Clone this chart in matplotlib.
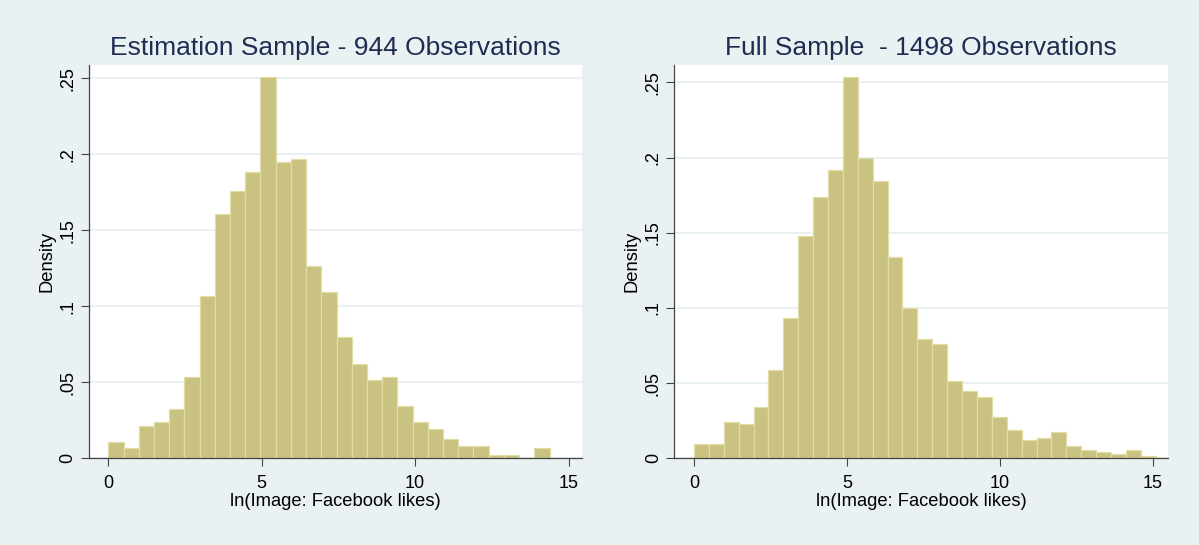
import numpy as np
import matplotlib.pyplot as plt

plt.rcParams['font.family'] = ['Liberation Sans', 'DejaVu Sans']

# Estimation sample (944 obs), 29 bins from 0 to ~14.38
est_range = (0.0, 14.38)
est_density = [0.0105, 0.0066, 0.0213, 0.0237, 0.0322, 0.0537, 0.1070, 0.1605,
               0.1757, 0.1886, 0.2507, 0.1947, 0.1971, 0.1265, 0.1094, 0.0796,
               0.0623, 0.0513, 0.0537, 0.0342, 0.0237, 0.0193, 0.0127, 0.0083,
               0.0083, 0.0022, 0.0022, 0.0, 0.0066]

# Full sample (1498 obs), 31 bins from 0 to ~15.09
full_range = (0.0, 15.09)
full_density = [0.0093, 0.0093, 0.0244, 0.0228, 0.0339, 0.0585, 0.0933, 0.1476,
                0.1738, 0.1915, 0.2533, 0.1995, 0.1846, 0.1341, 0.0997, 0.0791,
                0.0762, 0.0516, 0.0450, 0.0406, 0.0273, 0.0191, 0.0124, 0.0137,
                0.0175, 0.0080, 0.0055, 0.0040, 0.0027, 0.0055, 0.0013]

titles = ['Estimation Sample - 944 Observations', 'Full Sample  - 1498 Observations']
xticks = [0, 5, 10, 15]
yticks = [0, 0.05, 0.1, 0.15, 0.2, 0.25]
ytick_labels = ['0', '.05', '.1', '.15', '.2', '.25']

bg = '#e9f1f3'
bar_color = '#c9c280'
edge_color = '#e2dca6'
title_color = '#1f2d52'

fig = plt.figure(figsize=(11.99, 5.45), dpi=100, facecolor=bg)

panels = [
    ([0.0742, 0.1591, 0.4110, 0.7216], est_range, est_density, (-0.63, 15.43), 0.2587),
    ([0.5624, 0.1591, 0.4115, 0.7216], full_range, full_density, (-0.64, 15.48), 0.2615),
]

for (rect, rng, dens, xlim, ytop), title in zip(panels, titles):
    ax = fig.add_axes(rect)
    ax.set_facecolor('white')
    edges = np.linspace(rng[0], rng[1], len(dens) + 1)
    ax.bar(edges[:-1], dens, width=np.diff(edges), align='edge',
           color=bar_color, edgecolor=edge_color, linewidth=0.9, zorder=2)
    ax.set_xlim(*xlim)
    ax.set_ylim(0, ytop)
    ax.set_xticks(xticks)
    ax.set_yticks(yticks)
    ax.set_yticklabels(ytick_labels, rotation=90, va='center')
    ax.tick_params(axis='both', labelsize=13, length=5.5, width=0.8,
                   colors='#444444', labelcolor='black')
    ax.tick_params(axis='x', pad=6.5)
    ax.tick_params(axis='y', pad=3.5)
    ax.grid(axis='y', color='#e6eff1', linewidth=1.2, zorder=0)
    ax.set_axisbelow(True)
    for side in ['top', 'right']:
        ax.spines[side].set_visible(False)
    for side in ['left', 'bottom']:
        ax.spines[side].set_color('#444444')
        ax.spines[side].set_linewidth(0.9)
    ax.set_xlabel('ln(Image: Facebook likes)', fontsize=13.25, labelpad=0.5)
    ax.set_ylabel('Density', fontsize=13.25, labelpad=3)
    ax.set_title(title, fontsize=19, color=title_color, pad=7)

fig.savefig('out.png', dpi=100, facecolor=bg)
